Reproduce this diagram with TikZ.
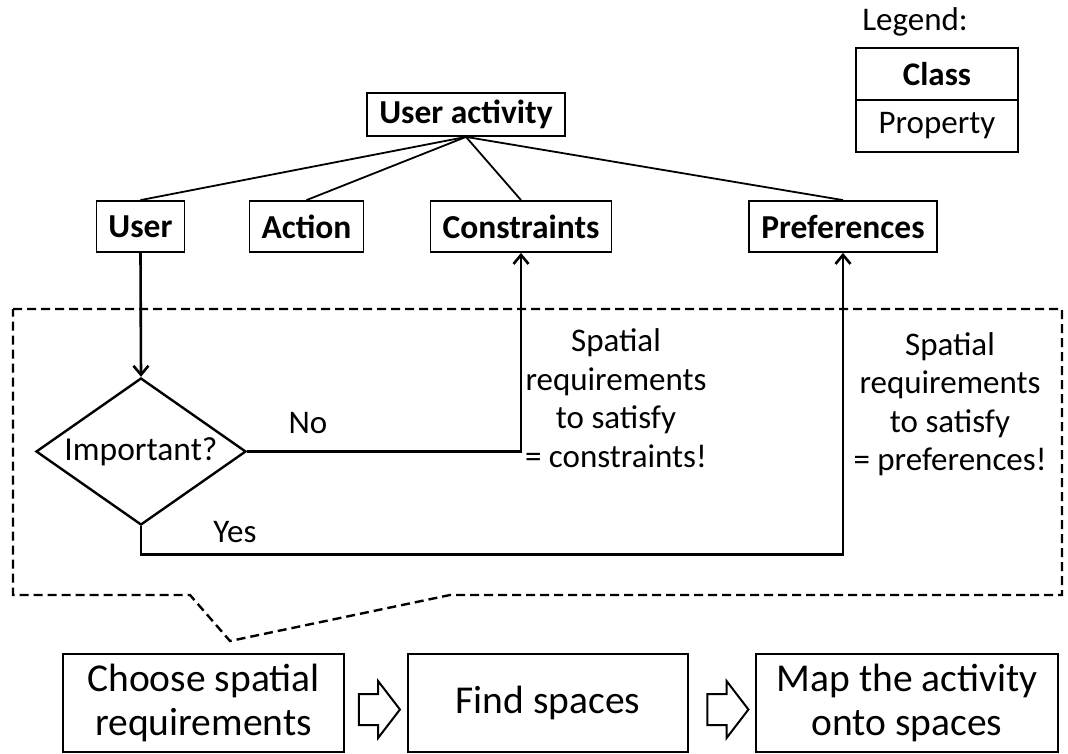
\documentclass[tikz,border=0pt]{standalone}
\usepackage{fontspec}
\setmainfont{Carlito}
\usepackage{tikz}
\usetikzlibrary{arrows.meta, positioning, shapes.geometric, shapes.arrows}

\begin{document}
\begin{tikzpicture}[
            x=1pt, y=-1pt,
            >={Straight Barb[length=9pt, width=15pt]},
            classnode/.style={draw=black, line width=1.8pt, font=\fontsize{33.5}{38}\selectfont\bfseries, inner xsep=12pt, inner ysep=0pt, minimum height=51pt},
            legendnode/.style={draw=black, line width=1.8pt, font=\fontsize{33}{38}\selectfont, minimum width=162pt, minimum height=52pt, outer sep=0pt},
            stepnode/.style={draw=black, line width=2pt, align=center, font=\fontsize{39.5}{44}\selectfont, minimum height=98pt, inner sep=0pt},
            labelnode/.style={align=center, inner sep=0pt, font=\fontsize{33}{38.5}\selectfont},
            decisionnode/.style={diamond, draw=black, line width=2.4pt, shape aspect=1.43, minimum width=210pt, minimum height=147pt, inner sep=0pt, font=\fontsize{33.5}{38}\selectfont},
            hollowarrow/.style={single arrow, draw=black, line width=2pt, minimum height=41pt, inner xsep=0pt, inner ysep=14.5pt, single arrow head extend=13pt, single arrow tip angle=105},
            tree/.style={line width=1.8pt},
            flow/.style={->, line width=2.6pt},
            callout/.style={line width=2.4pt, dash pattern=on 9pt off 5pt},
            ]
            \useasboundingbox (0,0) rectangle (1068,753);

            \node[classnode, minimum height=43pt] (uact) at (466,114.5) {User activity};
            \node[classnode]    (user)   at (140.5,226.5) {User};
            \node[classnode]    (action) at (306.5,226.5) {Action};
            \node[classnode]    (cons)   at (521,226.5) {Constraints};
            \node[classnode]    (pref)   at (843,226.5) {Preferences};

            \node[labelnode]    (legtitle) at (915,22) {Legend:};
            \node[legendnode, font=\fontsize{33}{38}\selectfont\bfseries] (legclass) at (937,74) {Class};
            \node[legendnode]   (legprop) [below=0pt of legclass] {Property};

            \node[decisionnode] (imp) at (141,451.5) {Important?};
            \node[labelnode]    (nolabel)  at (308,423) {No};
            \node[labelnode]    (yeslabel) at (235,532) {Yes};
            \node[labelnode]    (constext) at (616,398) {Spatial\\requirements\\to satisfy\\= constraints!};
            \node[labelnode]    (preftext) at (950,404) {Spatial\\requirements\\to satisfy\\= preferences!};

            \node[stepnode, minimum width=281pt] (choose) at (203.5,703) {Choose spatial\\requirements};
            \node[stepnode, minimum width=280pt] (find)   at (548,703) {Find spaces};
            \node[stepnode, minimum width=302pt] (mapto)  at (907,703) {Map the activity\\onto spaces};
            \node[hollowarrow] (arrfind) at (373.5,709.5) {};
            \node[hollowarrow] (arrmap)  at (722,709.5) {};

            \draw[tree] (uact.south) -- (user.north);
            \draw[tree] (uact.south) -- (action.north);
            \draw[tree] (uact.south) -- (cons.north);
            \draw[tree] (uact.south) -- (pref.north);

            \draw[flow] (user.south) -- (imp.north);
            \draw[flow] (imp.east) -| (cons.south);
            \draw[flow] (imp.south) -- ++(0,28) -| (pref.south);

            \draw[callout] (13,309) -- (1062,309) -- (1062,595) -- (450,595) -- (230,641) -- (190,595) -- (13,595) -- cycle;
        \end{tikzpicture}
\end{document}
